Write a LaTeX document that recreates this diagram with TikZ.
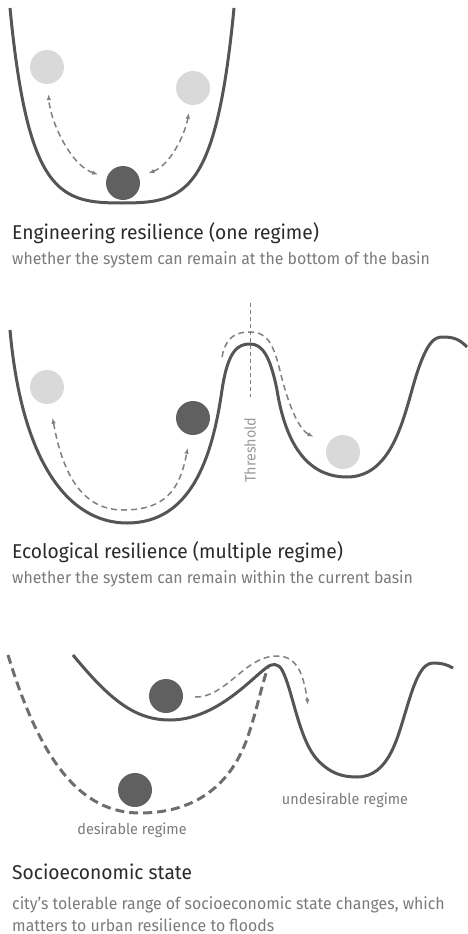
\documentclass[tikz,border=0pt]{standalone}
\usepackage{fontspec}
\setmainfont{Fira Sans}[FakeStretch=0.96]
\usetikzlibrary{arrows.meta}
\definecolor{landgray}{HTML}{555555}
\definecolor{balldark}{HTML}{606060}
\definecolor{balllight}{HTML}{D9D9D9}
\definecolor{arrgray}{HTML}{808080}
\definecolor{titlegray}{HTML}{2A2A2A}
\definecolor{subgray}{HTML}{7A7A7A}
\begin{document}
\begin{tikzpicture}[x=1pt,y=-1pt,
    >={Latex[length=6pt,width=4.5pt]},
    land/.style={draw=landgray,line width=3pt},
    ball/.style={circle,fill=balldark,minimum size=34pt,inner sep=0pt},
    lightball/.style={ball,fill=balllight},
    move/.style={draw=arrgray,line width=1.5pt,dash pattern=on 6pt off 4pt},
    title/.style={anchor=base west,inner sep=0pt,text=titlegray,font=\fontsize{20}{24}\selectfont},
    subtitle/.style={anchor=base west,inner sep=0pt,text=subgray,align=left,font=\fontsize{16.5}{22}\selectfont},
    tag/.style={text=subgray,font=\fontsize{15}{17}\selectfont}]
    \useasboundingbox (0,0) rectangle (467,934);

    % Engineering resilience
    \draw[land] (10,8) .. controls (28,195) and (60,203) .. (122,203) .. controls (185,203) and (216,195) .. (234,8);
    \node[lightball] (l1) at (47,67) {};
    \node[lightball] (l2) at (193,88) {};
    \node[ball] (d1) at (123,183) {};
    \draw[move,<->,shorten <=9pt,shorten >=10pt] (d1) .. controls (70,165) and (50,120) .. (l1);
    \draw[move,<->,shorten <=10pt,shorten >=8pt] (d1) .. controls (170,165) and (185,135) .. (l2);
    \node[title] (t1) at (12,239) {Engineering resilience (one regime)};
    \node[subtitle] (s1) at (12,264) {whether the system can remain at the bottom of the basin};

    % Ecological resilience
    \draw[land] (10,330) .. controls (22,465) and (70,523) .. (127,523) .. controls (190,523) and (212,460) .. (222,390)
        .. controls (228,350) and (238,344) .. (250,344) .. controls (262,344) and (270,355) .. (277,390)
        .. controls (285,440) and (305,477) .. (347,477) .. controls (395,477) and (405,410) .. (417,373)
        .. controls (428,340) and (435,337) .. (443,337) .. controls (455,337) and (460,340) .. (467,347);
    \coordinate (thtop) at (250,303);
    \coordinate (thbot) at (250,397);
    \draw[arrgray,line width=1pt,dash pattern=on 4pt off 3pt] (thtop) -- (thbot);
    \node[tag,rotate=90,text=arrgray!80] (thr) at (250,450) {Threshold};
    \node[lightball] (l3) at (47,387) {};
    \node[ball] (d2) at (193,418) {};
    \node[lightball] (l4) at (343,452) {};
    \draw[move,<->,shorten <=14pt,shorten >=13pt] (l3) .. controls (62,470) and (80,510) .. (123,510)
        .. controls (165,510) and (180,490) .. (d2);
    \coordinate (p2) at (222,357);
    \draw[move,->,shorten >=16pt] (p2) .. controls (226,335) and (238,332) .. (250,332)
        .. controls (268,332) and (274,345) .. (281,375) .. controls (290,410) and (300,430) .. (l4);
    \node[title] (t2) at (12,558) {Ecological resilience (multiple regime)};
    \node[subtitle] (s2) at (12,583) {whether the system can remain within the current basin};

    % Socioeconomic state
    \draw[land] (73,655) .. controls (110,700) and (135,720) .. (170,720) .. controls (215,720) and (250,680) .. (266,668)
        .. controls (272,663) and (278,663) .. (282,670) .. controls (292,688) and (298,735) .. (315,757)
        .. controls (330,775) and (345,777) .. (357,777) .. controls (390,777) and (398,735) .. (407,707)
        .. controls (415,680) and (422,663) .. (433,663) .. controls (442,663) and (448,665) .. (453,668);
    \draw[land,draw=landgray!85,dash pattern=on 9pt off 5pt] (8,655) .. controls (40,760) and (80,813) .. (140,813)
        .. controls (200,813) and (235,780) .. (250,730) .. controls (258,705) and (263,680) .. (268,668);
    \node[ball] (d3) at (166,696) {};
    \node[ball] (d4) at (135,790) {};
    \coordinate (e3) at (308,705);
    \draw[move,->,shorten <=12pt] (d3) .. controls (225,698) and (245,657) .. (275,656)
        .. controls (295,655) and (303,670) .. (e3);
    \node[tag] (undes) at (345,800) {undesirable regime};
    \node[tag] (des) at (132,830) {desirable regime};
    \node[title] (t3) at (12,879) {Socioeconomic state};
    \node[subtitle] (s3) at (12,931) {city’s tolerable range of socioeconomic state changes, which\\matters to urban resilience to floods};
\end{tikzpicture}
\end{document}
